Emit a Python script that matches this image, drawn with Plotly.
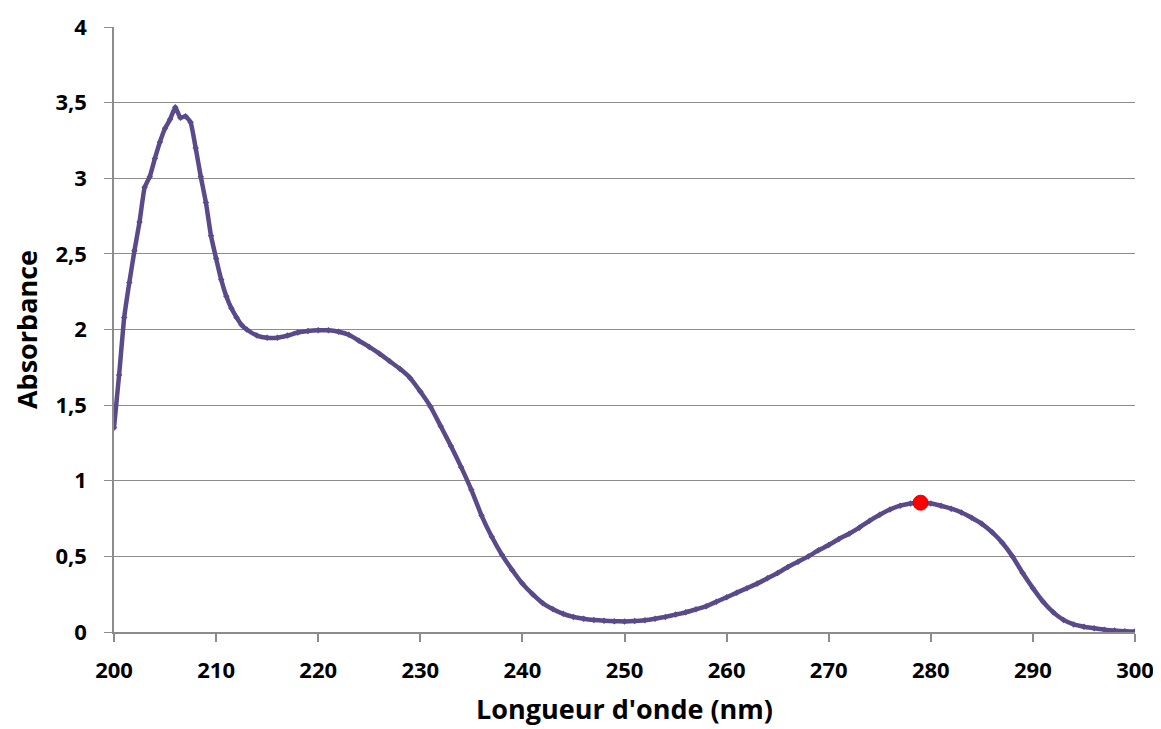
import plotly.graph_objects as go

# wavelength (nm) and absorbance
wavelength = [200, 200.5, 201, 201.5, 202, 202.5, 203, 203.5, 204, 204.5, 205, 205.5,
              206, 206.5, 207, 207.5, 208, 208.5, 209, 209.5, 210, 210.5, 211, 211.5,
              212, 212.5, 213, 214, 215, 216, 217, 218, 219, 220, 221, 222, 223, 224,
              225, 226, 227, 228, 229, 230, 231, 232, 233, 234, 235, 236, 237, 238, 239,
              240, 241, 242, 243, 244, 245, 246, 247, 248, 249, 250, 251, 252, 253, 254,
              255, 256, 257, 258, 259, 260, 261, 262, 263, 264, 265, 266, 267, 268, 269,
              270, 271, 272, 273, 274, 275, 276, 277, 278, 279, 280, 281, 282, 283, 284,
              285, 286, 287, 288, 289, 290, 291, 292, 293, 294, 295, 296, 297, 298, 299, 300]
absorbance = [1.35, 1.70, 2.08, 2.31, 2.52, 2.71, 2.94, 3.01, 3.13, 3.24, 3.33, 3.39,
              3.47, 3.40, 3.41, 3.37, 3.20, 3.01, 2.84, 2.62, 2.47, 2.33, 2.22, 2.14,
              2.08, 2.03, 2.00, 1.96, 1.945, 1.945, 1.96, 1.98, 1.99, 1.995, 1.995, 1.985, 1.965, 1.925,
              1.885, 1.84, 1.79, 1.74, 1.68, 1.59, 1.49, 1.36, 1.23, 1.09, 0.94, 0.77, 0.63, 0.51, 0.41,
              0.32, 0.25, 0.19, 0.15, 0.12, 0.10, 0.088, 0.08, 0.075, 0.071, 0.07, 0.072, 0.078, 0.088, 0.10,
              0.115, 0.13, 0.15, 0.17, 0.20, 0.23, 0.26, 0.29, 0.32, 0.355, 0.39, 0.43, 0.465, 0.50, 0.54,
              0.575, 0.615, 0.65, 0.69, 0.735, 0.775, 0.81, 0.835, 0.85, 0.855, 0.85, 0.835, 0.815, 0.79, 0.755,
              0.715, 0.66, 0.59, 0.50, 0.39, 0.29, 0.20, 0.13, 0.08, 0.05, 0.035, 0.025, 0.015, 0.01, 0.005, 0.003]

# highlighted maximum of the second band
peak_x = [279]
peak_y = [0.855]

line_color = "#5a4a8a"
grid_color = "#8c8c8c"
font_family = "'Open Sans', Lato, sans-serif"

fig = go.Figure()

fig.add_trace(go.Scatter(
    x=wavelength, y=absorbance,
    mode="lines+markers",
    line=dict(color=line_color, width=4.5, shape="spline", smoothing=0.4),
    marker=dict(color=line_color, size=5, symbol="diamond"),
    showlegend=False
))

fig.add_trace(go.Scatter(
    x=peak_x, y=peak_y,
    mode="markers",
    marker=dict(color="#ff0000", size=15, line=dict(color="#e00000", width=1)),
    showlegend=False
))

# the page body adds an 8 px offset, so margins are shifted to keep the plot area in place
fig.update_layout(
    width=1161, height=729,
    margin=dict(l=106, r=34, t=19, b=105),
    plot_bgcolor="white", paper_bgcolor="white",
    separators=", ",
    font=dict(family=font_family, color="black"),
)

fig.update_xaxes(
    range=[200, 300], dtick=10, tick0=200,
    showgrid=False, zeroline=False,
    showline=True, linecolor=grid_color, linewidth=1.5,
    ticks="outside", ticklen=8, tickcolor=grid_color, tickwidth=1.5,
    tickfont=dict(size=22, family=font_family, weight="bold"),
    ticklabelstandoff=10,
    automargin=False,
    title=dict(text="<b>Longueur d'onde (nm)</b>", font=dict(size=27), standoff=17),
)

fig.update_yaxes(
    range=[0, 4], dtick=0.5,
    showgrid=True, gridcolor=grid_color, gridwidth=1,
    zeroline=False,
    showline=True, linecolor=grid_color, linewidth=1.5,
    ticks="outside", ticklen=8, tickcolor=grid_color, tickwidth=1,
    tickfont=dict(size=22, family=font_family, weight="bold"),
    ticklabelstandoff=13,
    automargin=False,
    title=dict(text="<b>Absorbance</b>", font=dict(size=27), standoff=14),
)

fig.write_html("out.html")
